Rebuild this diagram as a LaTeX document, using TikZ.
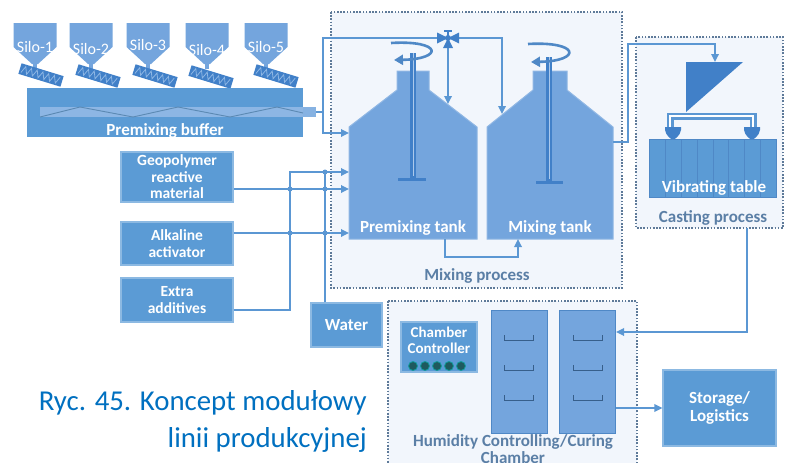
\documentclass[tikz,border=0pt]{standalone}
\usepackage{fontspec}
\setmainfont{Carlito}
\usetikzlibrary{arrows.meta,calc}
\definecolor{boxblue}{HTML}{5B9BD5}
\definecolor{tankblue}{HTML}{74A5DD}
\definecolor{edgeblue}{HTML}{4F88C6}
\definecolor{deepblue}{HTML}{4180C8}
\definecolor{pipeblue}{HTML}{5B97D3}
\definecolor{framegray}{HTML}{5E7A99}
\definecolor{labelgray}{HTML}{5B7FA6}
\definecolor{paneblue}{HTML}{F2F6FC}
\definecolor{captionblue}{HTML}{0070C0}
\definecolor{dotgreen}{HTML}{1E5A5E}
\definecolor{stripblue}{HTML}{8DB6E4}
\begin{document}
\begin{tikzpicture}[x=1pt,y=-1pt,
  pipe/.style={draw=pipeblue,line width=1.7pt},
  flow/.style={pipe,-{Triangle[length=8pt,width=7.5pt]}},
  frame/.style={draw=framegray,line width=1.3pt,dash pattern=on 1.6pt off 1.6pt,fill=paneblue},
  framelabel/.style={text=labelgray,font=\fontsize{17}{18}\selectfont\bfseries},
  whitelabel/.style={text=white,font=\fontsize{17}{18}\selectfont\bfseries},
  inbox/.style={fill=boxblue,draw=boxblue!70!white,line width=1.2pt,text=white,
    font=\fontsize{15.5}{16.5}\selectfont\bfseries,align=center,inner sep=0pt},
  rack/.style={fill=tankblue,draw=edgeblue,line width=1pt,minimum width=56pt,minimum height=123pt,inner sep=0pt},
  tank/.style={fill=tankblue,draw=tankblue!80!white,line width=1pt},
  junction/.style={circle,fill=pipeblue,inner sep=0pt,minimum size=5pt},
  led/.style={circle,fill=dotgreen,draw=dotgreen!60!cyan,line width=0.8pt,inner sep=0pt,minimum size=9pt}]
\useasboundingbox (0,0) rectangle (787,463);
\clip (0,0) rectangle (787,463);
\fill[white] (0,0) rectangle (787,463);

% ---------- process frames ----------
\draw[frame] (331,12) rectangle (622,288);
\draw[frame] (636,37) rectangle (783,228);
\draw[frame] (388,301) rectangle (637,480);
\node[framelabel] (mixlbl) at (477,276) {Mixing process};
\node[framelabel] (castlbl) at (713,218) {Casting process};
\node[framelabel,align=center,font=\fontsize{17}{17}\selectfont\bfseries] (humlbl) at (513,449) {Humidity Controlling/Curing\\Chamber};

% ---------- silos with screw feeders ----------
\foreach \i/\cx/\ty in {1/35/47, 2/91/49, 3/148/45, 4/207/50, 5/266/47}{
  \fill[tankblue] (\cx-21.5,23) -- (\cx+21.5,23) -- (\cx+21.5,47) -- (\cx+3,64) -- (\cx-3,64) -- (\cx-21.5,47) -- cycle;
  \fill[tankblue] (\cx-2,63) rectangle (\cx+2,69);
  \node[text=white,font=\fontsize{16}{16}\selectfont] (silo\i) at (\cx,\ty) {Silo-\i};
}
\foreach \sx/\sy in {41/75, 98/76, 155/76, 211/77, 276/76}{
  \begin{scope}[shift={(\sx,\sy)},rotate=-17]
    \fill[deepblue] (-22,-5.5) rectangle (22,5.5);
    \draw[stripblue,line width=0.8pt] (-20,3.5) -- (-17,-3.5) -- (-14,3.5) -- (-11,-3.5) -- (-8,3.5) -- (-5,-3.5) -- (-2,3.5) -- (1,-3.5) -- (4,3.5) -- (7,-3.5) -- (10,3.5) -- (13,-3.5) -- (16,3.5) -- (19,-3.5);
  \end{scope}
}

% ---------- premixing buffer ----------
\node[fill=boxblue,minimum width=276pt,minimum height=49pt,inner sep=0pt] (buffer) at (165,112.5) {};
\fill[stripblue] (40,107) rectangle (303,117);
\fill[stripblue!85!boxblue] (303,107) rectangle (316,117);
\draw[boxblue!80!black!90,line width=0.9pt] (40,117) -- (80,107) -- (133,117) -- (178,107) -- (230,117) -- (277,107) -- (303,113);
\node[whitelabel] (buflbl) at (165,131) {Premixing buffer};

% ---------- tanks ----------
\draw[tank] (349,127) -- (397,90) -- (397,71) -- (429,71) -- (429,90) -- (477,127) -- (477,239) -- (349,239) -- cycle;
\draw[tank] (487,127) -- (533,90) -- (533,71) -- (567,71) -- (567,90) -- (613,127) -- (613,239) -- (487,239) -- cycle;
% agitator shafts
\draw[deepblue,line width=6pt] (413,53) -- (413,179);
\draw[deepblue,line width=3pt] (398,179) -- (426,179);
\draw[tankblue!60!white,line width=1pt] (413,53) -- (413,176);
\draw[deepblue,line width=6pt] (549,57) -- (549,182);
\draw[deepblue,line width=3pt] (536,182) -- (563,182);
\draw[tankblue!60!white,line width=1pt] (549,57) -- (549,179);
% rotation marks
\draw[edgeblue,line width=2.6pt,-{Triangle[length=9pt,width=10pt]}] (391,43) .. controls (442,40) and (444,59) .. (394,60);
\draw[edgeblue,line width=2.6pt,-{Triangle[length=9pt,width=10pt]}] (528,44) .. controls (580,41) and (582,61) .. (531,62);
\node[whitelabel] (pmlbl) at (413,228) {Premixing tank};
\node[whitelabel] (mxlbl) at (550,228) {Mixing tank};

% ---------- casting station ----------
\fill[deepblue] (686,62) -- (743,62) -- (686,112) -- cycle;
\draw[pipeblue,line width=7pt] (670,129) -- (670,116) -- (753,116) -- (753,129);
\draw[white,line width=2.6pt] (670,128) -- (670,116) -- (753,116) -- (753,128);
\foreach \nx in {673,752}{
  \fill[deepblue] (\nx-8,127) -- (\nx+8,127) -- (\nx+8,130) .. controls (\nx+7,136) and (\nx+2,139) .. (\nx,140) .. controls (\nx-2,139) and (\nx-7,136) .. (\nx-8,130) -- cycle;
}
\node[fill=boxblue,draw=edgeblue,line width=1pt,minimum width=127pt,minimum height=58pt,inner sep=0pt] (table) at (712.5,168) {};
\foreach \dx in {665,681,697,713,728,744,760}{
  \draw[edgeblue,line width=1pt] (\dx,139) -- (\dx,197);
}
\node[whitelabel] (tablelbl) at (714,188) {Vibrating table};

% ---------- raw material inputs ----------
\node[inbox,minimum width=112pt,minimum height=50pt] (geo) at (177,177) {Geopolymer\\reactive\\material};
\node[inbox,minimum width=112pt,minimum height=43pt] (alk) at (177,243.5) {Alkaline\\activator};
\node[inbox,minimum width=112pt,minimum height=44pt] (extra) at (177,300) {Extra\\additives};
\node[inbox,font=\fontsize{17}{18}\selectfont\bfseries,minimum width=71pt,minimum height=44pt] (water) at (346.5,325) {Water};

% ---------- curing chamber ----------
\node[inbox,minimum width=76pt,minimum height=50pt] (ctrl) at (439,347) {};
\node[text=white,font=\fontsize{15}{16}\selectfont\bfseries,align=center] (ctrllbl) at (439,347) {Chamber\\Controller\\[-2pt]\phantom{x}};
\foreach \k/\lx in {1/413,2/425,3/437,4/449,5/461}{
  \node[led] (led\k) at (\lx,366) {};
}
\node[rack] (rackA) at (519,371.5) {};
\node[rack] (rackB) at (587.5,371.5) {};
\foreach \r in {rackA,rackB}{
  \foreach \sy in {340,370,400}{
    \draw[edgeblue!70!black,line width=0.9pt] ($(\r.west |- 0,\sy)+(14,-5)$) -- ($(\r.west |- 0,\sy)+(14,0)$) -- ($(\r.east |- 0,\sy)+(-14,0)$) -- ($(\r.east |- 0,\sy)+(-14,-5)$);
  }
}
\node[inbox,font=\fontsize{17}{18.5}\selectfont\bfseries,minimum width=113pt,minimum height=76pt] (storage) at (719.5,408) {Storage/\\Logistics};

% ---------- pipe junction points ----------
\coordinate (bufOut) at (316,112);
\coordinate (bufBend) at (323,112);
\coordinate (loopLow) at (323,133);
\coordinate (loopTop) at (323,38);
\coordinate (valve) at (448,38);
\coordinate (loopRight) at (502,38);
\coordinate (mixIn) at (502,114);
\coordinate (pmIn) at (448,104);
\coordinate (tankIn1) at (349,133);
\coordinate (tankIn2) at (349,172);
\coordinate (tankIn3) at (349,189);
\coordinate (tankIn4) at (349,233);
\coordinate (xBend) at (290,310);
\coordinate (xTop) at (290,172);
\coordinate (wTop) at (325,172);
\coordinate (mixOut) at (613,142);
\coordinate (riseLow) at (628,142);
\coordinate (riseTop) at (628,44);
\coordinate (hopAbove) at (715,44);
\coordinate (hopper) at (715,62);
\coordinate (castOut) at (747,228);
\coordinate (castTurn) at (747,332);
\coordinate (pmOut) at (445,239);
\coordinate (pmDown) at (445,257);
\coordinate (mxDown) at (518,257);
\coordinate (mxBottom) at (518,239);

% ---------- connectors ----------
\draw[flow] (bufOut) -- (bufBend) -- (loopLow) -- (tankIn1);
\draw[pipe] (loopLow) -- (loopTop) -- (valve);
\draw[flow] (valve) -- (loopRight) -- (mixIn);
\draw[flow] (valve) -- (pmIn);
\draw[flow] (geo.east |- tankIn3) -- (tankIn3);
\draw[flow] (alk.east |- tankIn4) -- (tankIn4);
\draw[flow] (extra.east |- xBend) -- (xBend) -- (xTop) -- (tankIn2);
\draw[pipe] (water.north -| wTop) -- (wTop);
\draw[flow] (pmOut) -- (pmDown) -- (mxDown) -- (mxBottom);
\draw[flow] (mixOut) -- (riseLow) -- (riseTop) -- (hopAbove) -- (hopper);
\draw[flow] (castOut) -- (castTurn) -- (castTurn -| rackB.east);
\draw[flow] (rackB.east |- storage.west) -- (storage.west);
\foreach \jx/\jy in {290/189, 290/233, 325/172, 325/189, 325/233}{
  \node[junction] at (\jx,\jy) {};
}

% three-way valve
\fill[deepblue] (437,32.5) -- (437,43.5) -- (448,38) -- cycle;
\fill[deepblue] (459,32.5) -- (459,43.5) -- (448,38) -- cycle;
\fill[deepblue] (443,48) -- (453,48) -- (448,38) -- cycle;
\fill[deepblue] (448,38) circle (3pt);
\draw[deepblue,line width=1.2pt] (448,38) -- (448,31) (444,31) -- (452,31);

% ---------- caption ----------
\node[anchor=east,text=captionblue,align=right,font=\fontsize{28.8}{37}\selectfont,inner sep=0pt] (caption) at (367,421.5) {Ryc. 45. Koncept modułowy\\linii produkcyjnej};
\end{tikzpicture}
\end{document}
